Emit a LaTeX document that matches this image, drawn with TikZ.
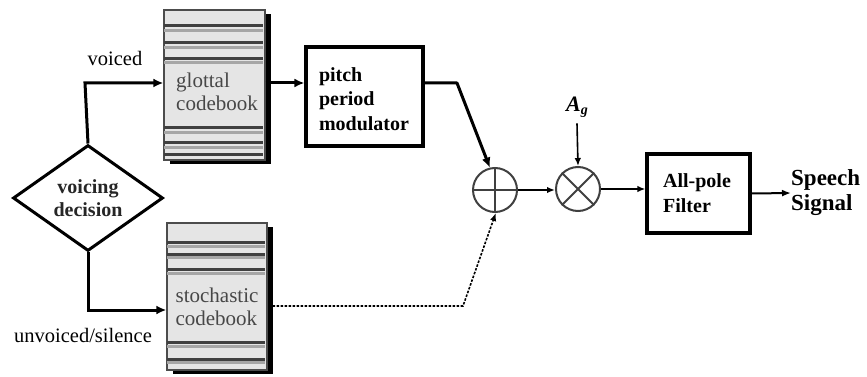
\documentclass[tikz,border=0pt]{standalone}
\usepackage{fontspec}
\setmainfont{Liberation Serif}
\usetikzlibrary{shapes.geometric,arrows.meta,shadows,calc}
\begin{document}
\begin{tikzpicture}[x=1pt,y=-1pt,
  lbl/.style={font=\rmfamily\fontsize{20.5}{24}\selectfont, inner sep=0pt},
  btxt/.style={font=\rmfamily\bfseries\fontsize{20}{24.5}\selectfont, align=left, inner sep=0pt},
  dia/.style={diamond, draw, line width=3pt, minimum width=150pt, minimum height=95pt, inner sep=0pt, align=center, font=\rmfamily\bfseries\fontsize{20}{23}\selectfont, text=black!85},
  blk/.style={draw, line width=3.2pt, rectangle, inner sep=0pt},
  cb/.style={rectangle, draw=black!70, line width=1.3pt, fill=black!10, inner sep=0pt,
     drop shadow={shadow xshift=6pt, shadow yshift=-4pt, fill=black, opacity=1}},
  cbtxt/.style={font=\rmfamily\fontsize{21}{23.5}\selectfont, text=black!72, align=left, inner sep=0pt},
  dk/.style={draw=black!75, line width=2.4pt},
  lt/.style={draw=black!35, line width=2.6pt},
  thick arrow/.style={line width=3pt, -{Latex[length=10pt,width=9pt]}},
  thin arrow/.style={line width=1.6pt, -{Latex[length=8pt,width=6.5pt]}},
  opnode/.style={circle, draw=black!75, line width=2pt, minimum size=44pt, inner sep=0pt}
]
\useasboundingbox (0,0) rectangle (867,377);

% voicing decision
\node[dia] (dec) at (88,198) {voicing\\decision};

% glottal codebook
\node[cb, minimum width=101pt, minimum height=150pt] (glottal) at (214.5,85) {};
\foreach \yy/\st in {16/dk,21/lt,33/dk,38/lt,49/dk,53/lt,118/dk,123/lt,133/dk,138/lt,145/dk}{
  \draw[\st] ($(glottal.north west)+(1,\yy)$) -- ++(99,0);
}
\node[cbtxt] (gtxt) at (217,92) {glottal\\codebook};

% stochastic codebook
\node[cb, minimum width=100pt, minimum height=147pt] (stoch) at (217,296.5) {};
\foreach \yy/\st in {20/dk,24/lt,32/dk,35/lt,47/dk,51/lt,120/dk,124/lt,137/dk,140/lt}{
  \draw[\st] ($(stoch.north west)+(1,\yy)$) -- ++(98,0);
}
\node[cbtxt] (stxt) at (217,307) {stochastic\\codebook};

% pitch period modulator
\node[blk, minimum width=117pt, minimum height=99pt] (pitch) at (364.5,96.5) {};
\node[btxt] (ptxt) at (364,99) {pitch\\period\\modulator};

% adder and multiplier
\node[opnode] (plus) at (495,190) {};
\draw[line width=2pt, black!75] (plus.west) -- (plus.east) (plus.north) -- (plus.south);
\node[opnode] (mult) at (578,189) {};
\draw[line width=2pt, black!75] (mult.north west) -- (mult.south east) (mult.north east) -- (mult.south west);

% all-pole filter
\node[blk, minimum width=103pt, minimum height=79pt] (filt) at (698.5,193.5) {};
\node[btxt] (ftxt) at (697,193) {All-pole\\Filter};

% labels
\node[lbl] (voiced) at (115,58) {voiced};
\node[lbl] (unv) at (83,335) {unvoiced/silence};
\node[inner sep=0pt, font=\rmfamily\bfseries\itshape\fontsize{22}{24}\selectfont] (ag) at (577,107) {A\raisebox{-0.3ex}{\fontsize{14}{14}\selectfont g}};
\node[btxt, font=\rmfamily\bfseries\fontsize{23}{25}\selectfont, anchor=west] (speech) at (791,193) {Speech\\Signal};

% connectors
\coordinate (vcorner) at (85,83);
\draw[thick arrow] (dec.north) -- (vcorner) -- ($(glottal.west)+(0,-2)$);
\coordinate (ucorner) at (88,310);
\draw[thick arrow] (dec.south) -- (ucorner) -- ($(stoch.west)+(0,13.5)$);
\draw[thick arrow] ($(glottal.east)+(0,-2)$) -- ($(glottal.east -| pitch.west)+(0,-2)$);
\coordinate (pbend) at (457,83);
\draw[thick arrow, line join=round] ($(glottal.east -| pitch.east)+(0,-2)$) -- (pbend) -- (plus.103);
\coordinate (sbend) at (463,306);
\draw[line width=1.6pt, dash pattern=on 2.5pt off 1.5pt, -{Latex[length=8pt,width=6.5pt]}] ($(stoch.east)+(5,9.5)$) -- (sbend) -- (plus.-88);
\draw[thin arrow] (plus.east) -- (plus.east -| mult.west);
\draw[thin arrow] (ag.south) ++(0,6) -- (mult.north);
\draw[thin arrow] (mult.east) -- (mult.east -| filt.west);
\draw[line width=2pt, -{Latex[length=9pt,width=7pt]}] (filt.east) -- (speech.west);
\end{tikzpicture}
\end{document}
